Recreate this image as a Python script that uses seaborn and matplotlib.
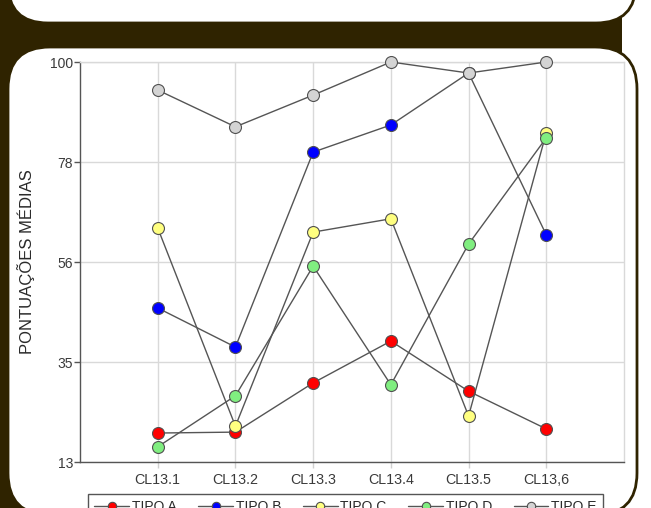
import numpy as np
import pandas as pd
import matplotlib
matplotlib.use("Agg")
import matplotlib.pyplot as plt
from matplotlib.patches import FancyBboxPatch, Rectangle
import seaborn as sns

# ---- data ----
categories = ["CL13.1", "CL13.2", "CL13.3", "CL13.4", "CL13.5", "CL13,6"]
series_names = ["TIPO A", "TIPO B", "TIPO C", "TIPO D", "TIPO E"]
tipo_a = [19.3, 19.5, 30.2, 39.3, 28.4, 20.2]
tipo_b = [46.5, 38.0, 80.4, 86.3, 97.6, 62.4]
tipo_c = [63.9, 20.8, 63.0, 65.9, 23.0, 84.6]
tipo_d = [16.3, 27.4, 55.6, 29.8, 60.4, 83.5]
tipo_e = [93.9, 85.9, 92.8, 100.0, 97.6, 100.0]
y_ticks = [13, 34.75, 56.5, 78.25, 100]
y_tick_labels = ["13", "35", "56", "78", "100"]
y_label = "PONTUAÇÕES MÉDIAS"

marker_colors = ["#ff0000", "#0000ff", "#ffff80", "#80ee80", "#d4d4d4"]

sns.set_theme(style="white")
plt.rcParams["font.family"] = ["Liberation Sans", "DejaVu Sans"]

W, H = 651, 508
fig = plt.figure(figsize=(W / 100, H / 100), dpi=100)
fig.patch.set_facecolor("white")

dark = "#2f2300"
tr = fig.dpi_scale_trans
# dark background
fig.patches.append(Rectangle((0, 0), 6.22, 5.08, transform=tr, facecolor=dark,
                             edgecolor="none", zorder=-3))
# top white box
fig.patches.append(FancyBboxPatch((0.08 + 0.4, 4.85 + 0.4), 6.28 - 0.8, 0.8,
                                  boxstyle="round,pad=0.4", transform=tr,
                                  facecolor="white", edgecolor=dark, lw=2, zorder=-2))
# main white box
x0, x1 = 0.08, 6.37
y0, y1 = -0.07, 4.61
r = 0.42
fig.patches.append(FancyBboxPatch((x0 + r, y0 + r), (x1 - x0) - 2 * r, (y1 - y0) - 2 * r,
                                  boxstyle=f"round,pad={r}", transform=tr,
                                  facecolor="white", edgecolor=dark, lw=2, zorder=-2))

# axes placement (pixels)
left_px, right_px, top_px, bot_px = 80, 624, 62, 462
ax = fig.add_axes([left_px / W, (H - bot_px) / H, (right_px - left_px) / W,
                   (bot_px - top_px) / H])
ax.set_facecolor("none")

df = pd.DataFrame({"x": np.arange(len(categories))})
all_series = [tipo_a, tipo_b, tipo_c, tipo_d, tipo_e]
for name, vals, mc in zip(series_names, all_series, marker_colors):
    sns.lineplot(x=df["x"], y=vals, ax=ax, color="#555555", lw=1.0, sort=False,
                 marker="o", markersize=8.6, markerfacecolor=mc,
                 markeredgecolor="#505050", markeredgewidth=0.8, label=name,
                 clip_on=False, zorder=3)

ax.set_xlim(-1, 6)
ax.set_ylim(13, 100)
ax.set_xticks(range(len(categories)))
ax.set_xticklabels(categories)
ax.set_yticks(y_ticks)
ax.set_yticklabels(y_tick_labels)
ax.grid(True, color="#d9d9d9", lw=1.0)
ax.set_axisbelow(True)

for s in ["top", "right"]:
    ax.spines[s].set_color("#d9d9d9")
    ax.spines[s].set_linewidth(1.0)
for s in ["left", "bottom"]:
    ax.spines[s].set_color("#555555")
    ax.spines[s].set_linewidth(1.0)

ax.tick_params(axis="y", which="both", left=True, length=4, width=1, color="#555555",
               pad=1, labelsize=10, labelcolor="#3a3a3a")
ax.tick_params(axis="x", which="both", bottom=True, length=4, width=1, color="#d0d0d0",
               pad=4, labelsize=10.3, labelcolor="#3a3a3a")

ax.set_xlabel("")
ax.set_ylabel(y_label, fontsize=12, color="#2a2a2a")
ax.yaxis.set_label_coords((35 - left_px) / (right_px - left_px), 0.5)

handles, labels = ax.get_legend_handles_labels()
ax.get_legend().remove()
leg = fig.legend(handles, labels, loc="upper left", ncol=5, mode="expand",
                 bbox_to_anchor=(88 / W, (H - 494) / H - 0.08, (603 - 88) / W, 0.08),
                 fontsize=10, frameon=True, fancybox=False, framealpha=1,
                 edgecolor="#555555", handlelength=2.5, handletextpad=0.2,
                 borderpad=0.45, borderaxespad=0, markerscale=0.7, columnspacing=1.0)
leg.get_frame().set_linewidth(1.0)
for t in leg.get_texts():
    t.set_color("#2a2a2a")

fig.savefig("out.png", dpi=100)
